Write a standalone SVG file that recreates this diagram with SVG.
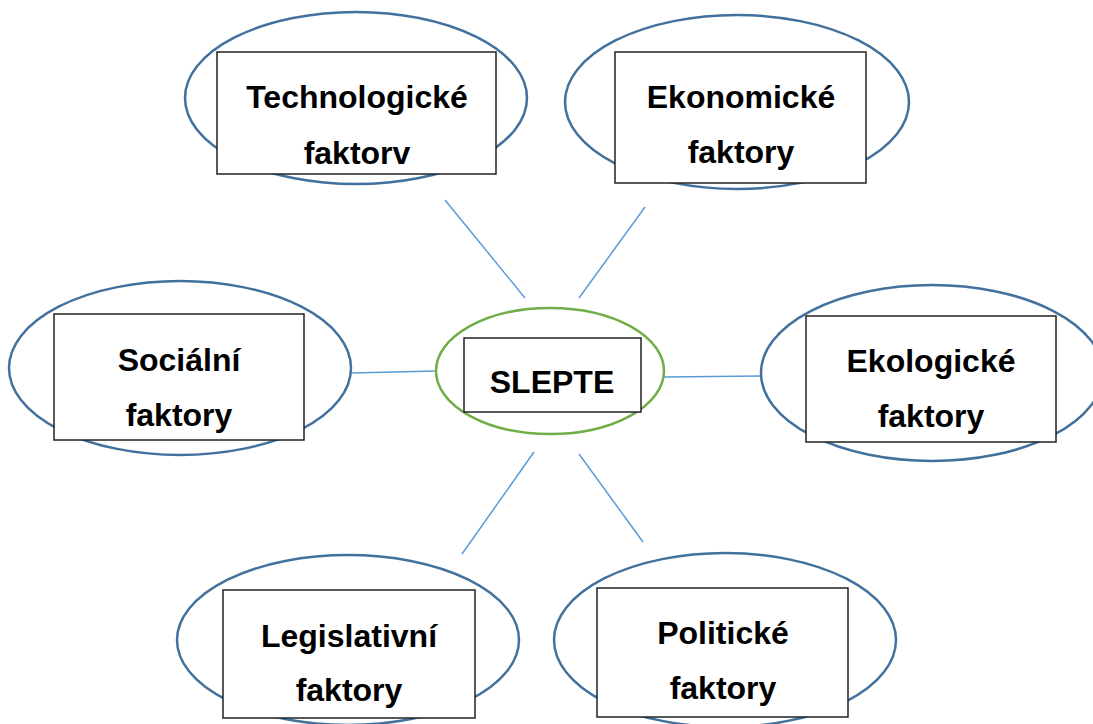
<svg xmlns="http://www.w3.org/2000/svg" width="1093" height="724" viewBox="0 0 1093 724">
<style>
.oval{fill:#fff;stroke:#41719C;stroke-width:2.5}
.core{fill:#fff;stroke:#70AD47;stroke-width:2.5}
.box{fill:#fff;stroke:#222;stroke-width:1.5}
.lbl{font-family:"Liberation Sans",Arial,sans-serif;font-weight:bold;font-size:32px;fill:#000;text-anchor:middle}
.conn line{stroke:#5B9BD5;stroke-width:1.5}
</style>
<rect width="1093" height="724" fill="#fff"/>
<g id="connectors" class="conn">
<line x1="445" y1="200" x2="525" y2="298"/>
<line x1="645" y1="207" x2="579" y2="298"/>
<line x1="351" y1="373" x2="436" y2="371"/>
<line x1="664" y1="377" x2="761" y2="376"/>
<line x1="534" y1="452" x2="462" y2="554"/>
<line x1="579" y1="454" x2="643" y2="542"/>
</g>
<g id="tech">
<ellipse class="oval" cx="356" cy="98" rx="171" ry="86"/>
<rect class="box" x="217" y="52" width="279" height="122"/>
<text class="lbl" x="357" y="108">Technologické</text>
<text class="lbl" x="357" y="164">faktorv</text>
</g>
<g id="econ">
<ellipse class="oval" cx="737" cy="102" rx="172" ry="87"/>
<rect class="box" x="615" y="52" width="251" height="131"/>
<text class="lbl" x="741" y="108">Ekonomické</text>
<text class="lbl" x="741" y="163">faktory</text>
</g>
<g id="social">
<ellipse class="oval" cx="180" cy="368" rx="171" ry="87"/>
<rect class="box" x="54" y="314" width="250" height="126"/>
<text class="lbl" x="179" y="371">Sociální</text>
<text class="lbl" x="179" y="426">faktory</text>
</g>
<g id="center">
<ellipse class="core" cx="550" cy="371" rx="114" ry="63"/>
<rect class="box" x="464" y="338" width="177" height="74"/>
<text class="lbl" x="552" y="393">SLEPTE</text>
</g>
<g id="eco">
<ellipse class="oval" cx="932" cy="373" rx="171" ry="88"/>
<rect class="box" x="806" y="316" width="250" height="126"/>
<text class="lbl" x="931" y="372">Ekologické</text>
<text class="lbl" x="931" y="427">faktory</text>
</g>
<g id="legis">
<ellipse class="oval" cx="348" cy="640" rx="171" ry="85"/>
<rect class="box" x="223" y="590" width="252" height="128"/>
<text class="lbl" x="349" y="647">Legislativní</text>
<text class="lbl" x="349" y="701">faktory</text>
</g>
<g id="polit">
<ellipse class="oval" cx="725" cy="640" rx="171" ry="87"/>
<rect class="box" x="597" y="588" width="251" height="129"/>
<text class="lbl" x="723" y="644">Politické</text>
<text class="lbl" x="723" y="699">faktory</text>
</g>
</svg>
